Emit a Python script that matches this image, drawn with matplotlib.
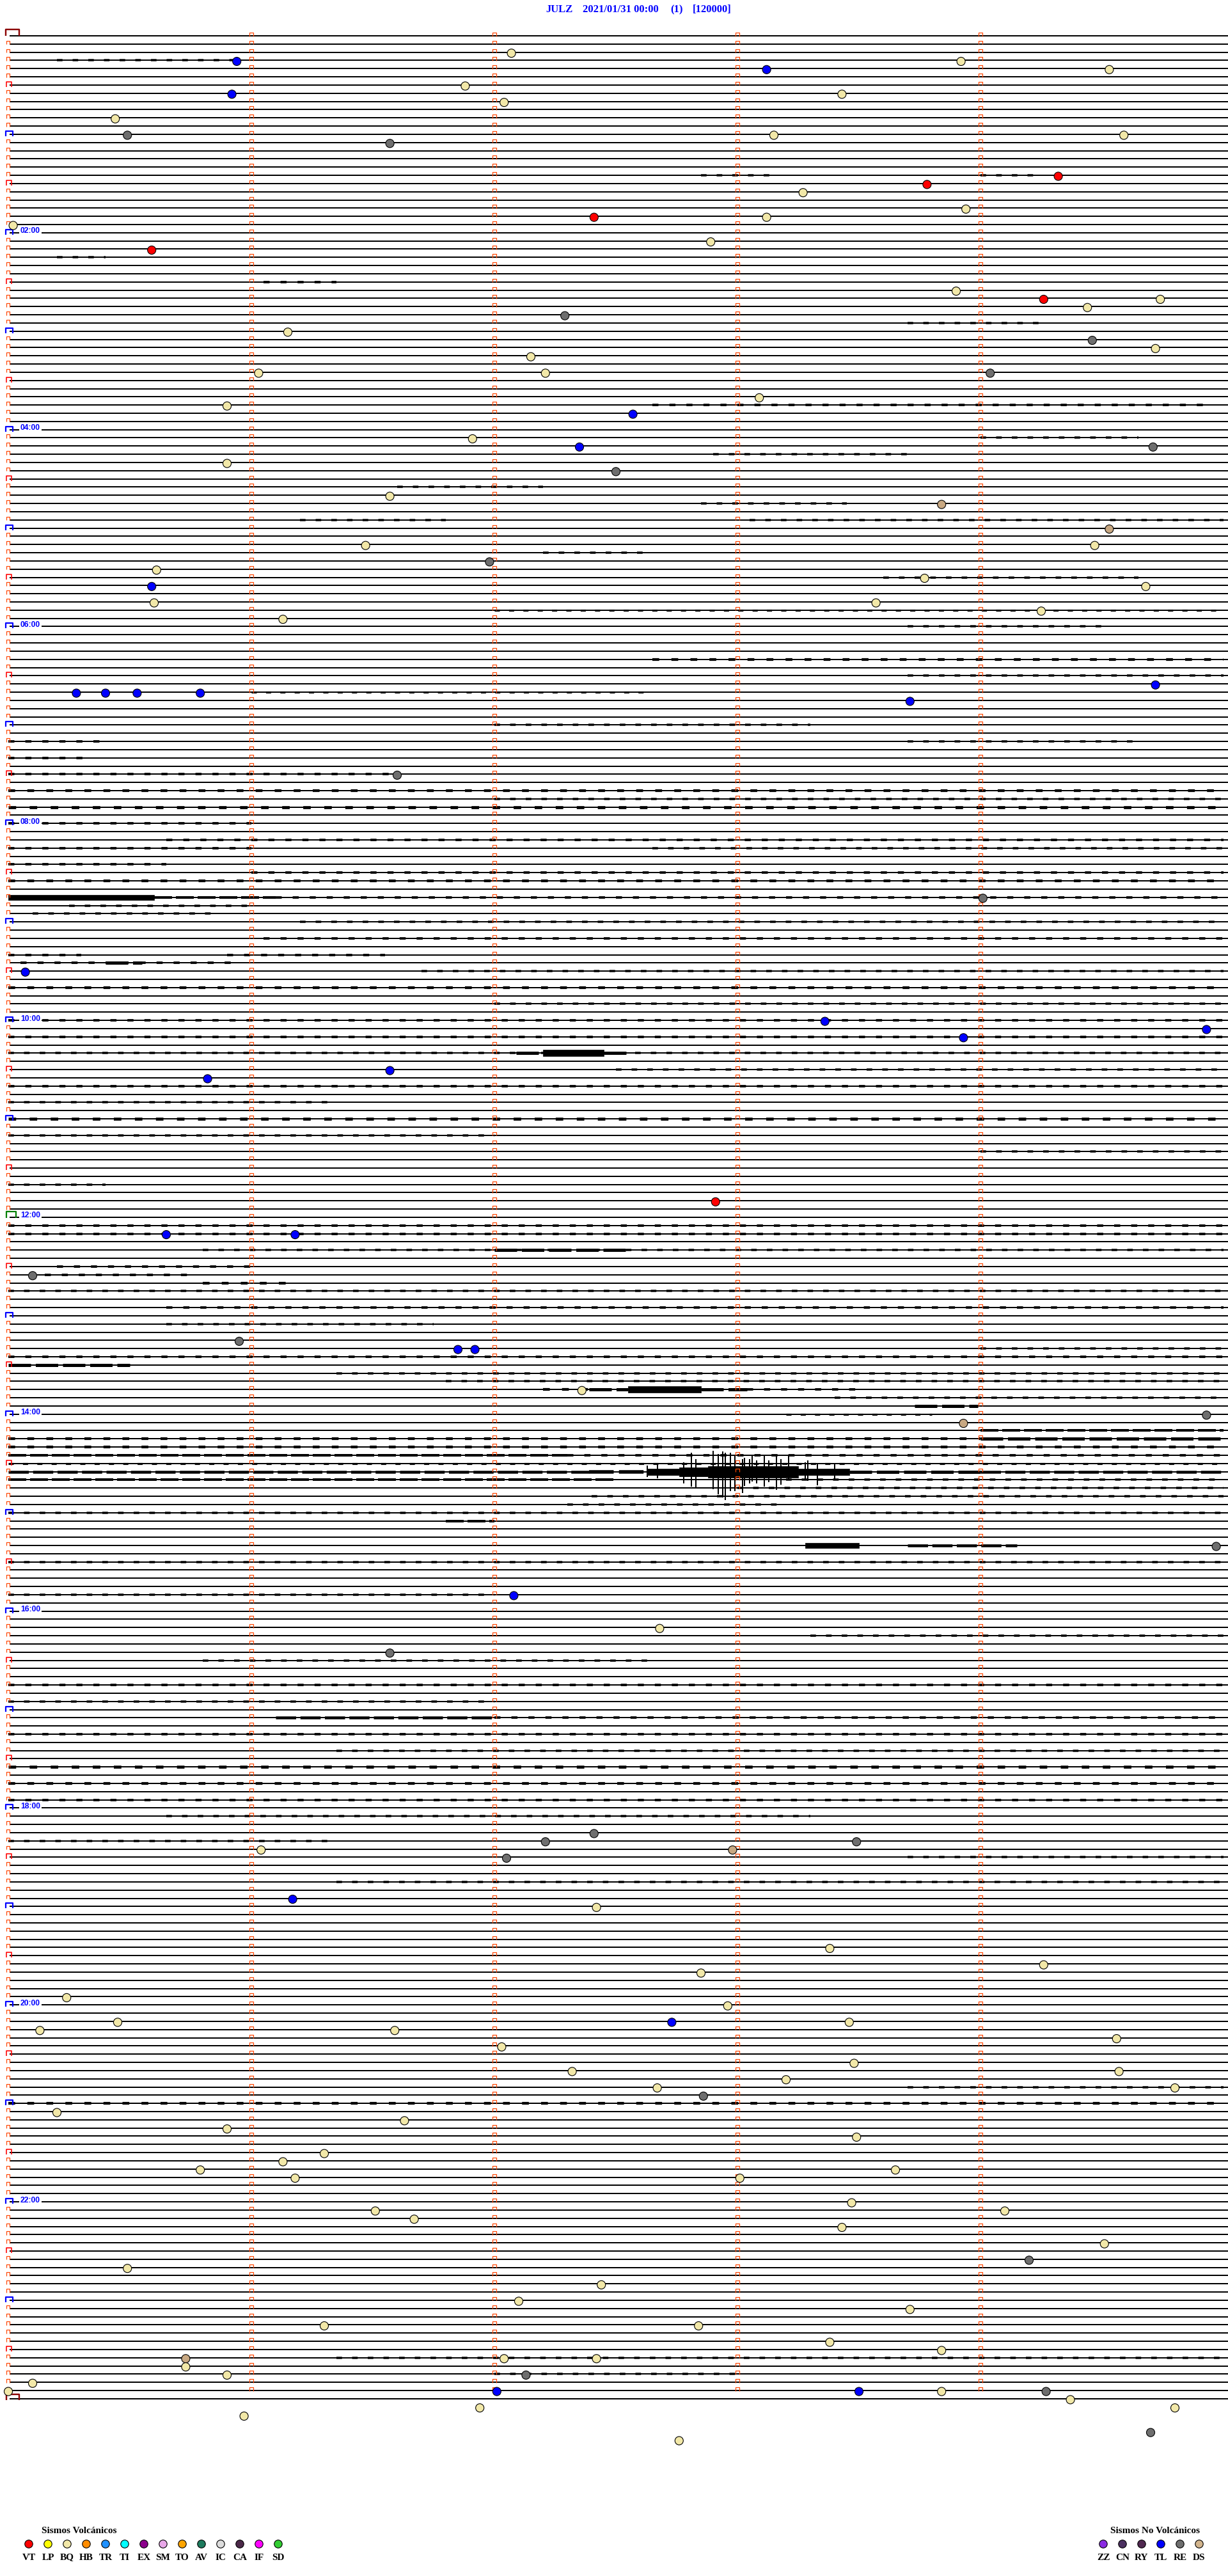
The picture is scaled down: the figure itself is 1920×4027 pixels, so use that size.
import numpy as np
import matplotlib.pyplot as plt
from matplotlib.collections import LineCollection, PolyCollection

# helicorder layout: one trace every 5 minutes, 00:00 .. 24:00
W, H = 1920, 4027
X0, PX_MIN = 13, 380.0      # pixel of minute 0 and pixels per minute
Y0, PX_ROW = 56, 12.826     # pixel of row 0 and pixels per row
n_rows = 289

title_parts = ["JULZ", "2021/01/31 00:00", "(1)", "[120000]"]
title_x = [853, 911, 1048, 1083]

hour_labels = ["02:00", "04:00", "06:00", "08:00", "10:00", "12:00",
               "14:00", "16:00", "18:00", "20:00", "22:00"]
hour_rows = [24, 48, 72, 96, 120, 144, 168, 192, 216, 240, 264]

# events: row (5-min line), minute within the line, type
ev_row = [2, 3, 3, 4, 4, 6, 7, 7, 8, 10, 12, 12, 12, 13, 17, 18, 19, 21, 22, 22,
          23, 25, 26, 31, 32, 32, 33, 34, 36, 37, 38, 39, 41, 41, 41, 44, 45, 46,
          49, 50, 50, 52, 53, 56, 57, 60, 62, 62, 64, 65, 66, 67, 67, 69, 69, 70,
          71, 80, 80, 80, 80, 79, 81, 90, 105, 114, 120, 121, 122, 126, 127, 142,
          146, 146, 151, 159, 160, 160, 165, 168, 169, 184, 190, 194, 197, 219,
          220, 221, 220, 221, 222, 227, 228, 233, 235, 236, 240, 239, 242, 242,
          242, 244, 243, 243, 245, 247, 248, 248, 249, 250, 250, 251, 253, 254,
          255, 256, 258, 259, 260, 260, 261, 261, 264, 265, 265, 266, 269, 267,
          271, 272, 274, 276, 277, 279, 279, 281, 283, 284, 283, 282, 283, 285,
          285, 286, 287, 287, 287, 287, 287, 288, 289, 289, 290, 292, 293]
ev_min = [2.07, 0.94, 3.92, 3.12, 4.53, 1.88, 0.92, 3.43, 2.04, 0.44, 0.49, 3.15,
          4.59, 1.57, 4.32, 3.78, 3.27, 3.94, 2.41, 3.12, 0.02, 2.89, 0.59, 3.90,
          4.74, 4.26, 4.44, 2.29, 1.15, 4.46, 4.72, 2.15, 1.03, 2.21, 4.04, 3.09,
          0.90, 2.57, 1.91, 2.35, 4.71, 0.90, 2.50, 1.57, 3.84, 4.53, 1.47, 4.47,
          1.98, 0.61, 3.77, 0.59, 4.68, 0.60, 3.57, 4.25, 1.13, 0.28, 0.40, 0.53,
          0.79, 4.72, 3.71, 1.60, 4.01, 0.07, 3.36, 4.93, 3.93, 1.57, 0.82, 2.91,
          0.65, 1.18, 0.10, 0.95, 1.85, 1.92, 2.36, 4.93, 3.93, 4.97, 2.08, 2.68,
          1.57, 2.41, 2.21, 2.98, 3.49, 1.04, 2.05, 1.17, 2.42, 3.38, 4.26, 2.85,
          2.96, 0.24, 2.73, 0.45, 3.46, 4.56, 0.13, 1.59, 2.03, 3.48, 2.32, 4.57,
          3.20, 2.67, 4.80, 2.86, 0.20, 1.63, 0.90, 3.49, 1.30, 1.13, 0.79, 3.65,
          1.18, 3.01, 3.47, 1.51, 4.10, 1.67, 4.51, 3.43, 4.20, 0.49, 2.44, 2.10,
          3.71, 1.30, 2.84, 3.38, 0.73, 0.73, 2.04, 3.84, 2.42, 0.90, 2.13, 0.10,
          0.00, 2.01, 3.50, 3.84, 4.27, 4.37, 4.80, 1.94, 0.97, 4.70, 2.76]
ev_type = ["BQ", "TL", "BQ", "TL", "BQ", "BQ", "TL", "BQ", "BQ", "BQ", "RE", "BQ",
           "BQ", "RE", "VT", "VT", "BQ", "BQ", "VT", "BQ", "BQ", "BQ", "VT", "BQ",
           "BQ", "VT", "BQ", "RE", "BQ", "RE", "BQ", "BQ", "BQ", "BQ", "RE", "BQ",
           "BQ", "TL", "BQ", "TL", "RE", "BQ", "RE", "BQ", "DS", "DS", "BQ", "BQ",
           "RE", "BQ", "BQ", "TL", "BQ", "BQ", "BQ", "BQ", "BQ", "TL", "TL", "TL",
           "TL", "TL", "TL", "RE", "RE", "TL", "TL", "TL", "TL", "TL", "TL", "VT",
           "TL", "TL", "RE", "RE", "TL", "TL", "BQ", "RE", "DS", "RE", "TL", "BQ",
           "RE", "RE", "RE", "DS", "RE", "BQ", "RE", "TL", "BQ", "BQ", "BQ", "BQ",
           "BQ", "BQ", "TL", "BQ", "BQ", "BQ", "BQ", "BQ", "BQ", "BQ", "BQ", "BQ",
           "BQ", "BQ", "BQ", "RE", "BQ", "BQ", "BQ", "BQ", "BQ", "BQ", "BQ", "BQ",
           "BQ", "BQ", "BQ", "BQ", "BQ", "BQ", "BQ", "BQ", "RE", "BQ", "BQ", "BQ",
           "BQ", "BQ", "BQ", "BQ", "DS", "BQ", "BQ", "BQ", "BQ", "BQ", "RE", "BQ",
           "BQ", "TL", "TL", "BQ", "RE", "BQ", "BQ", "BQ", "BQ", "RE", "BQ"]

# noisy stretches of trace: (row, minute start, minute end, half amplitude px)
noise = [
    (3, 0.2, 0.95, 1.0), (17, 2.85, 3.15, 1.0), (17, 4.0, 4.25, 1.0),
    (27, 0.2, 0.4, 1.0), (30, 1.05, 1.35, 1.2), (35, 3.7, 4.25, 1.0),
    (45, 2.65, 4.95, 1.2), (49, 4.0, 4.65, 1.0), (51, 2.9, 3.7, 1.0),
    (55, 1.6, 2.2, 1.0), (57, 2.85, 3.45, 1.0), (59, 1.2, 1.8, 1.0),
    (59, 3.05, 5.0, 1.0), (63, 2.2, 2.65, 1.0), (66, 3.6, 4.65, 1.0),
    (70, 2.0, 5.0, 0.8), (72, 3.7, 4.5, 1.0), (76, 2.65, 5.0, 1.5),
    (78, 3.7, 5.0, 1.0), (80, 1.0, 2.65, 0.8), (84, 2.0, 3.3, 1.0),
    (86, 0.0, 0.4, 1.2), (86, 3.7, 4.65, 1.0), (88, 0.0, 0.35, 1.2),
    (90, 0.0, 1.6, 1.2), (92, 0.0, 5.0, 1.5), (93, 2.0, 5.0, 1.0),
    (94, 0.0, 5.0, 1.8), (96, 0.0, 1.0, 1.2), (98, 0.65, 5.0, 1.2),
    (99, 0.0, 1.0, 1.2), (99, 2.65, 5.0, 1.0), (101, 0.0, 0.65, 1.2),
    (102, 1.0, 5.0, 1.2), (103, 0.0, 5.0, 1.5), (105, 0.0, 0.6, 4.0),
    (105, 0.6, 1.1, 2.0), (105, 1.1, 5.0, 1.2), (106, 0.25, 1.0, 1.0),
    (107, 0.1, 0.85, 1.0), (108, 1.2, 5.0, 1.0), (110, 1.05, 5.0, 1.2),
    (112, 0.0, 0.3, 1.2), (112, 0.9, 1.55, 1.2), (113, 0.05, 0.95, 1.2),
    (113, 0.4, 0.55, 3.0), (114, 1.7, 5.0, 1.0), (116, 0.0, 5.0, 1.5),
    (118, 2.0, 5.0, 1.0), (120, 0.0, 5.0, 1.2), (122, 0.0, 5.0, 1.2),
    (124, 0.0, 5.0, 1.0), (124, 2.09, 2.2, 3.0), (124, 2.2, 2.45, 5.0),
    (124, 2.45, 2.55, 3.0), (126, 2.5, 5.0, 1.0), (128, 0.0, 5.0, 1.2),
    (130, 0.0, 1.35, 1.0), (132, 0.0, 5.0, 1.8), (134, 0.0, 2.0, 1.0),
    (136, 4.0, 5.0, 1.0), (140, 0.0, 0.4, 1.0), (145, 0.0, 5.0, 1.2),
    (146, 0.0, 5.0, 1.2), (148, 2.0, 2.55, 3.0), (148, 0.8, 5.0, 1.0),
    (150, 0.2, 1.0, 1.2), (151, 0.15, 0.75, 1.2),
    (152, 0.8, 1.15, 1.5), (153, 0.0, 5.0, 1.0),
    (155, 0.65, 5.0, 1.2), (157, 0.65, 1.75, 1.0), (160, 4.0, 5.0, 1.0),
    (161, 0.0, 5.0, 1.2), (162, 0.0, 0.5, 3.0), (163, 1.35, 5.0, 1.0),
    (164, 1.8, 5.0, 1.0), (165, 2.2, 2.39, 1.5), (165, 2.39, 2.55, 3.0),
    (165, 2.55, 2.85, 5.0), (165, 2.85, 3.04, 3.0), (165, 3.04, 3.5, 1.2),
    (166, 3.4, 5.0, 1.0), (167, 3.73, 3.99, 3.0), (168, 3.2, 3.8, 0.8),
    (170, 4.0, 5.0, 2.0), (171, 0.0, 4.0, 1.5), (171, 4.0, 5.0, 3.0),
    (172, 0.0, 5.0, 1.5), (173, 0.0, 2.3, 2.0), (173, 2.3, 5.0, 1.2),
    (174, 0.0, 5.0, 0.8), (175, 0.0, 2.39, 2.5), (175, 2.39, 2.63, 3.5),
    (175, 2.63, 2.76, 5.0), (175, 2.76, 2.88, 7.0), (175, 2.88, 3.25, 9.0),
    (175, 3.25, 3.46, 5.0), (175, 3.46, 4.0, 3.0), (175, 4.0, 5.0, 2.5),
    (176, 0.0, 2.5, 2.0), (176, 3.2, 5.0, 1.0), (177, 3.0, 5.0, 1.0),
    (178, 2.4, 5.0, 1.0), (179, 2.3, 3.2, 1.0), (180, 0.0, 5.0, 1.0),
    (181, 1.8, 2.0, 2.0), (184, 3.28, 3.5, 4.0), (184, 3.7, 4.15, 2.5),
    (186, 0.0, 5.0, 1.0), (190, 0.0, 2.0, 1.0), (195, 3.3, 5.0, 1.0),
    (198, 0.8, 2.65, 1.0), (201, 0.0, 5.0, 1.2), (203, 0.0, 2.0, 1.0),
    (205, 1.1, 2.0, 2.5), (205, 2.0, 5.0, 1.2), (207, 0.0, 5.0, 1.2),
    (209, 1.35, 5.0, 1.0), (211, 0.0, 5.0, 1.8), (213, 0.0, 5.0, 1.5),
    (215, 0.0, 5.0, 1.2), (217, 0.65, 3.3, 1.0), (220, 0.0, 1.35, 1.0),
    (222, 3.7, 5.0, 1.0), (225, 1.35, 5.0, 1.0), (250, 3.7, 5.0, 1.0),
    (252, 0.0, 5.0, 1.5), (283, 1.35, 5.0, 1.0), (285, 2.0, 3.0, 1.0),
]

# peaks of the 14:35 event: (minute, up px, down px)
spikes_175 = [(2.63, 10, 8), (2.67, 12, 10), (2.78, 15, 18), (2.81, 30, 23),
              (2.83, 20, 26), (2.90, 33, 27), (2.92, 28, 35), (2.94, 32, 40),
              (2.95, 30, 44), (2.97, 30, 30), (2.99, 25, 30), (3.02, 20, 33),
              (3.03, 22, 22), (3.05, 20, 18), (3.06, 25, 15), (3.08, 18, 18),
              (3.11, 26, 23), (3.13, 18, 16), (3.16, 25, 28), (3.18, 20, 20),
              (3.21, 25, 12), (3.28, 15, 12), (3.29, 18, 14), (3.33, 13, 21),
              (3.40, 12, 12)]

volc_codes = ["VT", "LP", "BQ", "HB", "TR", "TI", "EX", "SM", "TO", "AV", "IC",
              "CA", "IF", "SD"]
volc_colors = ["#ff0000", "#ffff00", "#f2e8a8", "#ff8c00", "#1e90ff", "#00ffff",
               "#8b008b", "#e8a8e8", "#ffa500", "#1e7b5e", "#dcdcdc", "#4b2848",
               "#ff00ff", "#32cd32"]
nonv_codes = ["ZZ", "CN", "RY", "TL", "RE", "DS"]
nonv_colors = ["#8a2be2", "#4b3060", "#502850", "#0000ff", "#6e6e6e", "#d2b48c"]
ev_colors = dict(zip(volc_codes + nonv_codes, volc_colors + nonv_colors))
ev_colors["DS"] = "#c8a882"

dx = 1 / PX_MIN
dy = 1 / PX_ROW
PT = 0.72  # points per pixel at dpi 100

fig = plt.figure(figsize=(19.2, 40.27), dpi=100)
ax = fig.add_axes([0, 0, 1, 1])
ax.set_xlim(-X0 / PX_MIN, (W - X0) / PX_MIN)
ax.set_ylim((H - Y0) / PX_ROW, -Y0 / PX_ROW)
ax.axis("off")

# traces
traces = [[(2 * dx, r), (5.02, r)] for r in range(n_rows)]
ax.add_collection(LineCollection(traces, colors="black", linewidths=2 * PT, zorder=2))

# noise: light stretches dotted, moderate ones thick, bursts as envelopes
rects = []
for r, m0, m1, h in noise:
    if h <= 1.8:
        ax.plot([m0, m1], [r, r], color="black", lw=(2 + 1.5 * h) * PT,
                dashes=(2.5, 4.5), solid_capstyle="butt", zorder=3)
    elif h <= 3.5:
        ax.plot([m0, m1], [r, r], color="black", lw=(2 + h) * PT,
                dashes=(7, 1.5), solid_capstyle="butt", zorder=3)
    else:
        rects.append([(m0, r - h * dy), (m1, r - h * dy), (m1, r + h * dy), (m0, r + h * dy)])
ax.add_collection(PolyCollection(rects, facecolors="black", edgecolors="black",
                                 linewidths=0.5, zorder=3))
spike_segs = [[(m, 175 - up * dy), (m, 175 + dn * dy)] for m, up, dn in spikes_175]
ax.add_collection(LineCollection(spike_segs, colors="black", linewidths=2 * PT, zorder=3))


def bracket(xc, r, half_w, top, bottom):
    return [(xc - half_w * dx, r + bottom * dy), (xc - half_w * dx, r - top * dy),
            (xc + half_w * dx, r - top * dy), (xc + half_w * dx, r + bottom * dy)]


# minute marks
small = []
for r in range(n_rows - 1):
    for m in range(1, 5):
        small.append(bracket(m, r, 3, 5, 0.5))
    if r % 12 and r % 12 != 6:
        small.append(bracket(0, r, 2.5, 5, 0.5))
ax.add_collection(LineCollection(small, colors="#ff4500", linewidths=1.2 * PT, zorder=4))

half_hour = [bracket(1 * dx, r, 4, 5, 3) for r in range(6, n_rows, 12)]
ax.add_collection(LineCollection(half_hour, colors="#ff0000", linewidths=1.6 * PT, zorder=4))
hourly = [bracket(2 * dx, r, 5.5, 5, 3) for r in range(12, n_rows - 1, 12) if r != 144]
ax.add_collection(LineCollection(hourly, colors="#0000ff", linewidths=2.2 * PT, zorder=4))
ax.add_collection(LineCollection([bracket(4.5 * dx, 144, 8, 9, 1)], colors="#008000",
                                 linewidths=2.2 * PT, zorder=4))
ax.add_collection(LineCollection([bracket(7 * dx, 0, 10.5, 10, 0),
                                  bracket(7 * dx, n_rows - 1, 10, 7, 2)],
                                 colors="#8b0000", linewidths=2.4 * PT, zorder=4))

for lab, r in zip(hour_labels, hour_rows):
    ax.text(19 * dx, r + 0.5 * dy, lab, color="#0000ff", fontsize=8.7, fontweight="bold",
            family="Liberation Sans", ha="left", va="baseline", zorder=5,
            bbox=dict(facecolor="white", edgecolor="none", pad=1.5))

# events
ax.scatter(ev_min, np.array(ev_row) + 1.5 * dy, s=88,
           c=[ev_colors[t] for t in ev_type], edgecolors="black",
           linewidths=0.8, zorder=6, clip_on=False)

# title
for txt, px in zip(title_parts, title_x):
    fig.text(px / W, 1 - 15 / H, txt, color="#0000ff", fontsize=12, fontweight="bold",
             family="Liberation Serif", ha="left", va="center")

# legends
serif = dict(family="Liberation Serif", fontweight="bold", color="black")
fig.text(124 / W, 1 - 3957 / H, "Sismos Volcánicos", fontsize=11, ha="center",
         va="center", **serif)
lx = [(45 + 30 * i) / W for i in range(len(volc_codes))]
ax.scatter(lx, [1 - 3977 / H] * len(lx), s=80, c=volc_colors, edgecolors="black",
           linewidths=0.8, transform=fig.transFigure, clip_on=False, zorder=6)
for x, code in zip(lx, volc_codes):
    fig.text(x, 1 - 3998 / H, code, fontsize=11, ha="center", va="center", **serif)

fig.text(1806 / W, 1 - 3957 / H, "Sismos No Volcánicos", fontsize=11, ha="center",
         va="center", **serif)
nx = [(1725 + 30 * i) / W for i in range(len(nonv_codes))]
ax.scatter(nx, [1 - 3977 / H] * len(nx), s=80, c=nonv_colors, edgecolors="black",
           linewidths=0.8, transform=fig.transFigure, clip_on=False, zorder=6)
for x, code in zip(nx, nonv_codes):
    fig.text(x, 1 - 3998 / H, code, fontsize=11, ha="center", va="center", **serif)

fig.savefig("out.png", dpi=100, facecolor="white")
